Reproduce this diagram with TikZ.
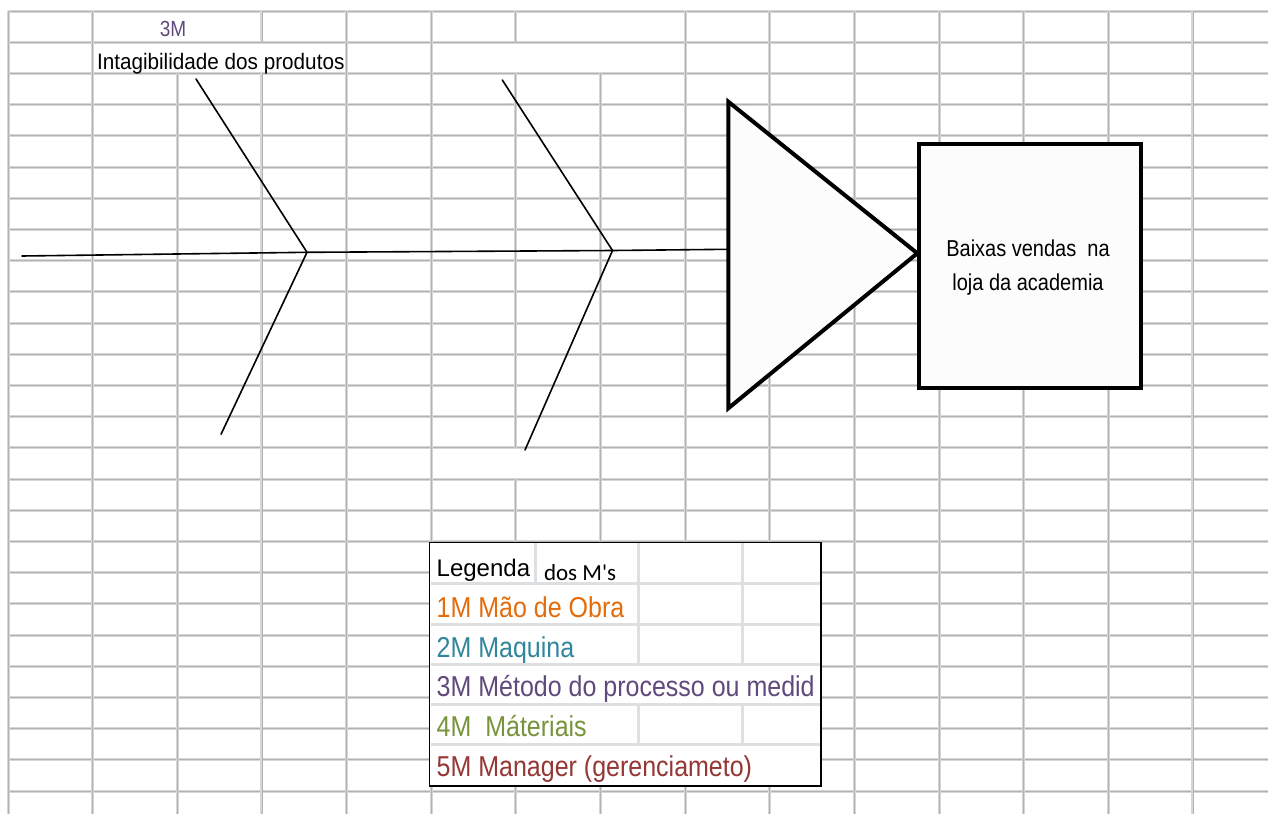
\documentclass[tikz,border=0pt]{standalone}
\usepackage{graphicx}
\usepackage{fontspec}
\setmainfont{Liberation Sans}
\newfontfamily\calibfont{Carlito}
\definecolor{gridlite}{HTML}{D6D6D6}
\definecolor{griddark}{HTML}{B2B2B2}
\definecolor{leggrid}{HTML}{DDE0E3}
\definecolor{mOrange}{HTML}{E46C0A}
\definecolor{mTeal}{HTML}{31859C}
\definecolor{mPurple}{HTML}{604A7B}
\definecolor{mGreen}{HTML}{77933C}
\definecolor{mRed}{HTML}{953735}
\definecolor{shapefill}{HTML}{FCFCFC}
\newcommand\tallish[1]{\scalebox{1}[1.15]{#1}}
\tikzset{
  cell/.style={draw=griddark, line width=0.8pt, preaction={draw=gridlite, line width=3pt}},
  bone/.style={draw=black, line width=1.6pt, line cap=round, line join=round},
  heavy/.style={draw=black, line width=4pt, line join=miter, fill=shapefill},
  lbl/.style={inner sep=0pt, outer sep=0pt, anchor=base west},
  legline/.style={draw=leggrid, line width=3pt},
  legbox/.style={draw=black, line width=1.5pt},
}
\begin{document}
\begin{tikzpicture}[x=1pt,y=-1pt]
\useasboundingbox (0,0) rectangle (1268,814);
\fill[white] (0,0) rectangle (1268,814);
% spreadsheet grid
\foreach \r in {0,...,25} {
  \pgfmathsetmacro\yy{11+31.2*\r}
  \draw[cell] (8,\yy) -- (1268,\yy);
}
\foreach \c in {0,1,4,5,8,9,10,11,12,13,14} {
  \pgfmathsetmacro\xx{8+84.64*\c}
  \draw[cell] (\xx,11) -- (\xx,814);
}
\draw[cell] (177.3,73.4) -- (177.3,814);
\draw[cell] (261.9,11) -- (261.9,42.2);
\draw[cell] (261.9,73.4) -- (261.9,814);
\draw[cell] (515.8,11) -- (515.8,42.2);
\draw[cell] (515.8,73.4) -- (515.8,447.8);
\draw[cell] (515.8,479) -- (515.8,814);
\draw[cell] (600.5,73.4) -- (600.5,814);
% fishbone
\coordinate (tail) at (22,256);
\coordinate (j1) at (307,252.3);
\coordinate (j2) at (612.5,250.5);
\coordinate (sE) at (728,249.3);
\coordinate (b1t) at (196,79);
\coordinate (b1b) at (221,434.3);
\coordinate (b2t) at (502.3,80);
\coordinate (b2b) at (525,450);
\draw[bone] (tail) -- (j1) -- (j2) -- (sE);
\draw[bone] (b1t) -- (j1) -- (b1b);
\draw[bone] (b2t) -- (j2) -- (b2b);
% head triangle
\coordinate (tA) at (728.3,101.7);
\coordinate (tB) at (728.3,408.3);
\coordinate (tC) at (917.3,253.3);
\draw[heavy] (tA) -- (tC) -- (tB) -- cycle;
% effect box
\node[heavy, minimum width=221.7pt, minimum height=244.3pt, inner sep=0pt, outer sep=0pt] (effect) at (1029.9,266.2) {};
\node[inner sep=0pt, anchor=base, font=\fontsize{20}{20}\selectfont] (effT1) at (1028,256) {\tallish{Baixas vendas~~na}};
\node[inner sep=0pt, anchor=base, font=\fontsize{20}{20}\selectfont] (effT2) at (1028,290) {\tallish{loja da academia}};
% cause labels
\node[inner sep=0pt, anchor=base, text=mPurple, font=\fontsize{19}{19}\selectfont] (lab3m) at (173,36) {\tallish{3M}};
\node[lbl, font=\fontsize{20.7}{21}\selectfont] (labcause) at (97,69) {\scalebox{1}[1.08]{Intagibilidade dos produtos}};
% legend
\node[fill=white, minimum width=391.7pt, minimum height=243.7pt, inner sep=0pt, outer sep=0pt,
      anchor=north west] (legend) at (429.3,542.3) {};
\foreach \yy in {583,624,664,704,744} {
  \draw[legline] (431,\yy) -- (820,\yy);
}
\draw[legline] (535,543) -- (535,583);
\draw[legline] (638,543) -- (638,664);
\draw[legline] (638,704) -- (638,744);
\draw[legline] (742,543) -- (742,664);
\draw[legline] (742,704) -- (742,744);
\begin{scope}
\clip (legend.north west) rectangle (legend.south east);
\node[lbl, font=\fontsize{24}{24}\selectfont] (lgA) at (436.7,576.7) {Legenda};
\node[lbl, font=\calibfont\fontsize{23}{23}\selectfont] (lgB) at (544,580) {dos M's};
\node[lbl, text=mOrange, font=\fontsize{25}{25}\selectfont] (lg1) at (436.7,617) {\tallish{1M Mão de Obra}};
\node[lbl, text=mTeal, font=\fontsize{25}{25}\selectfont] (lg2) at (436.7,657.7) {\tallish{2M Maquina}};
\node[lbl, text=mPurple, font=\fontsize{25}{25}\selectfont] (lg3) at (436.7,696.7) {\tallish{3M Método do processo ou medid}};
\node[lbl, text=mGreen, font=\fontsize{25}{25}\selectfont] (lg4) at (436.7,736.7) {\tallish{4M~~Máteriais}};
\node[lbl, text=mRed, font=\fontsize{25}{25}\selectfont] (lg5) at (436.7,776.7) {\tallish{5M Manager (gerenciameto)}};
\end{scope}
\draw[legbox] (legend.north west) rectangle (legend.south east);
\end{tikzpicture}
\end{document}
